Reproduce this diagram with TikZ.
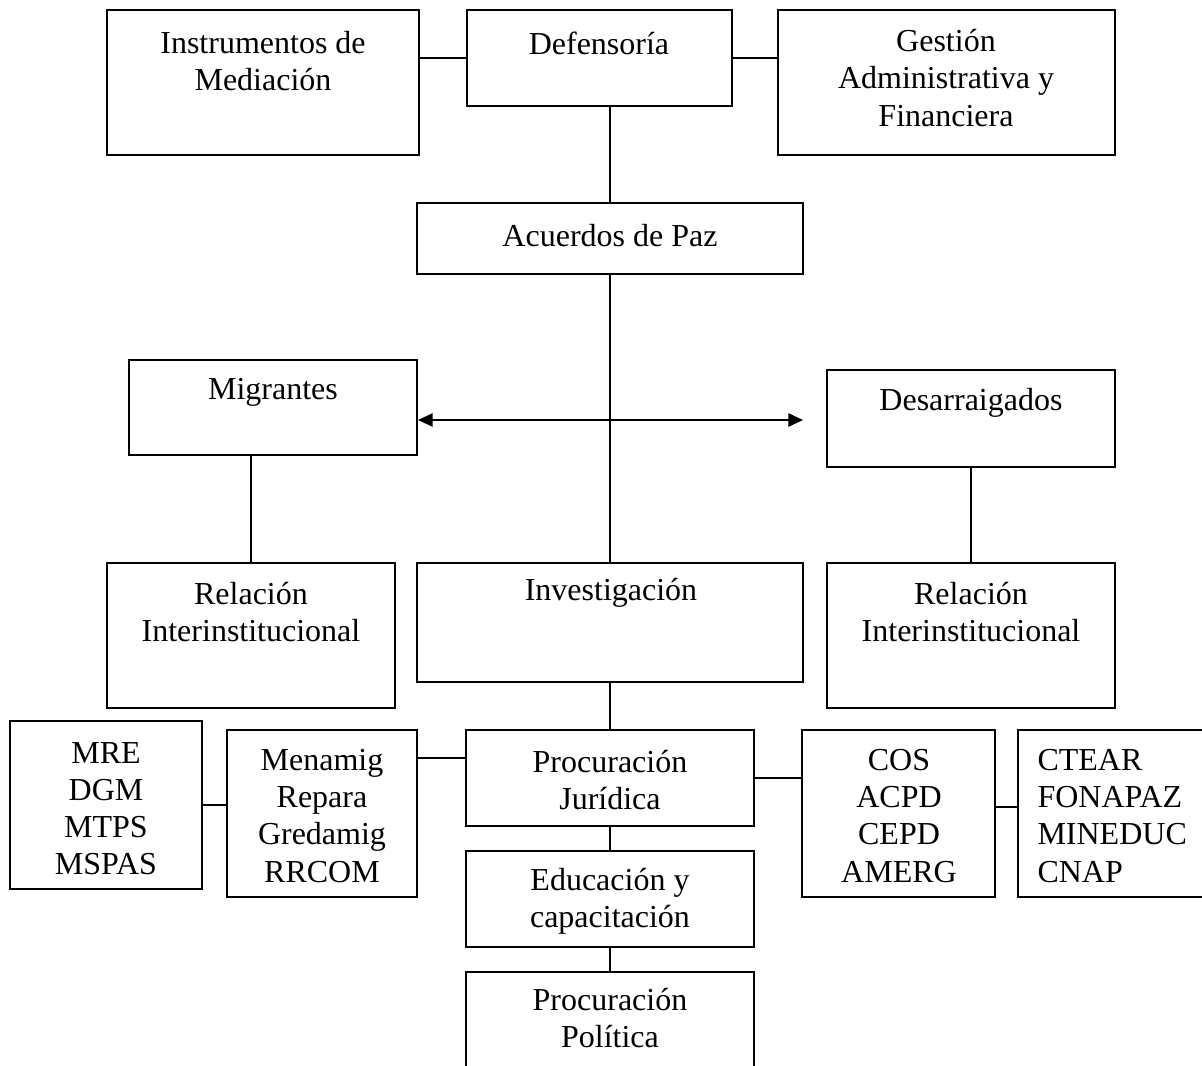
\documentclass[tikz,border=0pt]{standalone}
\usepackage{fontspec}
\setmainfont{Liberation Serif}
\usetikzlibrary{fit,arrows.meta}
\tikzset{
  caja/.style={draw, line width=0.75pt, inner sep=0pt},
  rotulo/.style={align=center, inner sep=0pt, font=\fontsize{12}{13.9}\selectfont},
  enlace/.style={line width=0.6pt},
  doble/.style={line width=0.6pt, {Triangle[length=5.5pt,width=5pt]}-{Triangle[length=5.5pt,width=5pt]}}
}
\newcommand{\caja}[5]{\node[caja, fit={(#2,#3) (#4,#5)}] (#1) {};}
\newcommand{\rotulo}[4]{\node[rotulo] (#1) at (#2,#3) {#4};}

\begin{document}
\begin{tikzpicture}[x=0.375pt, y=-0.375pt]
        \useasboundingbox (0,0) rectangle (1202,1066);
        \clip (0,0) rectangle (1202,1066);
        % top row
        \caja{instr}{107}{10}{419}{155}
        \caja{defens}{467}{10}{732}{106}
        \caja{gestion}{778}{10}{1115}{155}
        \caja{acuerdos}{417}{203}{803}{274}
        % middle rows
        \caja{migr}{129}{360}{417}{455}
        \caja{desarr}{827}{370}{1115}{467}
        \caja{relizq}{107}{563}{395}{708}
        \caja{invest}{417}{563}{803}{682}
        \caja{relder}{827}{563}{1115}{708}
        % bottom rows
        \caja{mre}{10}{721}{202}{889}
        \caja{menamig}{227}{730}{417}{897}
        \caja{procjur}{466}{730}{754}{826}
        \caja{cos}{802}{730}{995}{897}
        \caja{ctear}{1018}{730}{1240}{897}
        \caja{educ}{466}{851}{754}{947}
        \caja{procpol}{466}{972}{754}{1100}

        % texts
        \rotulo{instr-t}{263}{61}{Instrumentos de\\Mediación}
        \rotulo{defens-t}{599}{43}{Defensoría}
        \rotulo{gestion-t}{946}{78}{Gestión\\Administrativa y\\Financiera}
        \rotulo{acuerdos-t}{610}{236}{Acuerdos de Paz}
        \rotulo{migr-t}{273}{392}{Migrantes}
        \rotulo{desarr-t}{971}{403}{Desarraigados}
        \rotulo{relizq-t}{251}{612}{Relación\\Interinstitucional}
        \rotulo{invest-t}{611}{593}{Investigación}
        \rotulo{relder-t}{971}{612}{Relación\\Interinstitucional}
        \rotulo{mre-t}{106}{809}{MRE\\DGM\\MTPS\\MSPAS}
        \rotulo{menamig-t}{322}{816}{Menamig\\Repara\\Gredamig\\RRCOM}
        \rotulo{procjur-t}{610}{780}{Procuración\\Jurídica}
        \rotulo{cos-t}{899}{816}{COS\\ACPD\\CEPD\\AMERG}
        \node[rotulo, anchor=west, align=left] (ctear-t) at (1037,816) {CTEAR\\FONAPAZ\\MINEDUC\\CNAP};
        \rotulo{educ-t}{610}{901}{Educación y\\capacitación}
        \rotulo{procpol-t}{610}{1018}{Procuración\\Política}

        % links
        \draw[enlace] (defens.west) -- (defens.west -| instr.east);
        \draw[enlace] (defens.east) -- (defens.east -| gestion.west);
        \draw[enlace] (acuerdos.north) -- (acuerdos.north |- defens.south);
        \draw[enlace] (acuerdos.south) -- (invest.north);
        \coordinate (flechader) at (803,420);
        \draw[doble] (migr.east |- flechader) -- (flechader);
        \draw[enlace] (relizq.north) -- (relizq.north |- migr.south);
        \draw[enlace] (desarr.south) -- (relder.north);
        \draw[enlace] (invest.south) -- (procjur.north);
        \draw[enlace] (menamig.east |- 0,758) -- (procjur.west |- 0,758);
        \draw[enlace] (mre.east) -- (mre.east -| menamig.west);
        \draw[enlace] (procjur.east) -- (procjur.east -| cos.west);
        \draw[enlace] (cos.east |- 0,807) -- (ctear.west |- 0,807);
        \draw[enlace] (procjur.south) -- (educ.north);
        \draw[enlace] (educ.south) -- (procpol.north);
\end{tikzpicture}
\end{document}
